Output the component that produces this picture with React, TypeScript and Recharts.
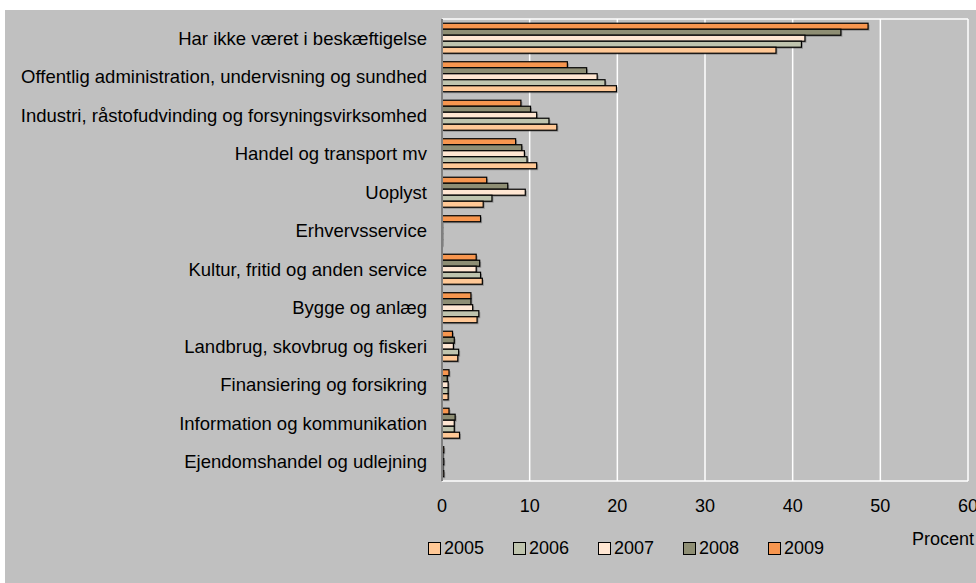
import { BarChart, Bar, XAxis, YAxis, CartesianGrid, Legend } from "recharts"

const categories = [
    "Har ikke været i beskæftigelse",
    "Offentlig administration, undervisning og sundhed",
    "Industri, råstofudvinding og forsyningsvirksomhed",
    "Handel og transport mv",
    "Uoplyst",
    "Erhvervsservice",
    "Kultur, fritid og anden service",
    "Bygge og anlæg",
    "Landbrug, skovbrug og fiskeri",
    "Finansiering og forsikring",
    "Information og kommunikation",
    "Ejendomshandel og udlejning",
]

const v2005 = [38.1, 19.9, 13.1, 10.8, 4.7, 0.05, 4.6, 4.0, 1.8, 0.7, 2.0, 0.2]
const v2006 = [41.0, 18.6, 12.2, 9.7, 5.7, 0.05, 4.4, 4.2, 1.9, 0.7, 1.4, 0.1]
const v2007 = [41.4, 17.7, 10.8, 9.4, 9.5, 0.05, 3.9, 3.5, 1.3, 0.7, 1.4, 0.2]
const v2008 = [45.5, 16.5, 10.1, 9.1, 7.5, 0.05, 4.3, 3.3, 1.4, 0.6, 1.5, 0.1]
const v2009 = [48.6, 14.3, 9.0, 8.4, 5.1, 4.4, 3.9, 3.3, 1.2, 0.8, 0.8, 0.2]

const years = ["2005", "2006", "2007", "2008", "2009"]
const colors: Record<string, string> = {
    "2005": "#ffc896",
    "2006": "#bfc4ae",
    "2007": "#ffe6d2",
    "2008": "#8e8e74",
    "2009": "#f7964f",
}
const xTicks = [0, 10, 20, 30, 40, 50, 60]

const data = categories.map((name, i) => ({
    name,
    "2005": v2005[i],
    "2006": v2006[i],
    "2007": v2007[i],
    "2008": v2008[i],
    "2009": v2009[i],
}))

const FONT = "'Liberation Sans', Arial, sans-serif"

function ShadowBar(props: any) {
    const { x, y, width, height, fill } = props
    if (width == null || height == null) return null
    return (
        <g>
            <rect x={x + 1.5} y={y + 1.5} width={Math.max(width, 0.5)} height={height} fill="rgba(0,0,0,0.25)" />
            <rect x={x} y={y} width={Math.max(width, 0.5)} height={height} fill={fill} stroke="#000" strokeWidth={1.2} />
        </g>
    )
}

function LegendBox() {
    return (
        <div style={{ position: "relative", height: 24, fontFamily: FONT, fontSize: 18, color: "#000" }}>
            {years.map((y, i) => (
                <div
                    key={y}
                    style={{ position: "absolute", left: 423 + i * 85, top: 0, display: "flex", alignItems: "center" }}
                >
                    <span
                        style={{
                            display: "inline-block",
                            width: 11,
                            height: 11,
                            background: colors[y],
                            border: "1px solid #000",
                            marginRight: 3,
                        }}
                    />
                    <span>{y}</span>
                </div>
            ))}
            <div style={{ position: "absolute", left: 907, top: -9 }}>Procent</div>
        </div>
    )
}

export default function App() {
    return (
        <div style={{ position: "absolute", left: 0, top: 0, width: 976, height: 583, background: "#fff", overflow: "hidden" }}>
            <div style={{ position: "absolute", left: 5, top: 10, width: 971, height: 573, background: "#c0c0c0" }}>
                <BarChart
                    width={971}
                    height={573}
                    data={data}
                    layout="vertical"
                    margin={{ top: 9, right: 8, bottom: 48, left: 0 }}
                    barCategoryGap="11%"
                    barGap={0}
                >
                    <CartesianGrid
                        stroke="#ffffff"
                        strokeWidth={1.5}
                        horizontalCoordinatesGenerator={({ offset }: any) => [offset.top]}
                    />
                    <XAxis
                        type="number"
                        domain={[0, 60]}
                        ticks={xTicks}
                        interval={0}
                        height={30}
                        tickLine={false}
                        tickSize={0}
                        tickMargin={18}
                        axisLine={{ stroke: "#ffffff", strokeWidth: 1.5 }}
                        tick={{ fill: "#000", fontSize: 18, fontFamily: FONT }}
                    />
                    <YAxis
                        type="category"
                        dataKey="name"
                        width={437}
                        interval={0}
                        tickLine={false}
                        tickSize={0}
                        tickMargin={15}
                        axisLine={{ stroke: "#7f7f7f", strokeWidth: 2 }}
                        tick={{ fill: "#000", fontSize: 18.5, fontFamily: FONT }}
                    />
                    <Legend
                        verticalAlign="bottom"
                        content={() => <LegendBox />}
                        wrapperStyle={{ position: "absolute", left: 0, top: 528, width: 971, height: 24 }}
                    />
                    {years
                        .slice()
                        .reverse()
                        .map((y) => (
                            <Bar key={y} dataKey={y} fill={colors[y]} shape={ShadowBar} isAnimationActive={false} />
                        ))}
                </BarChart>
            </div>
        </div>
    )
}
